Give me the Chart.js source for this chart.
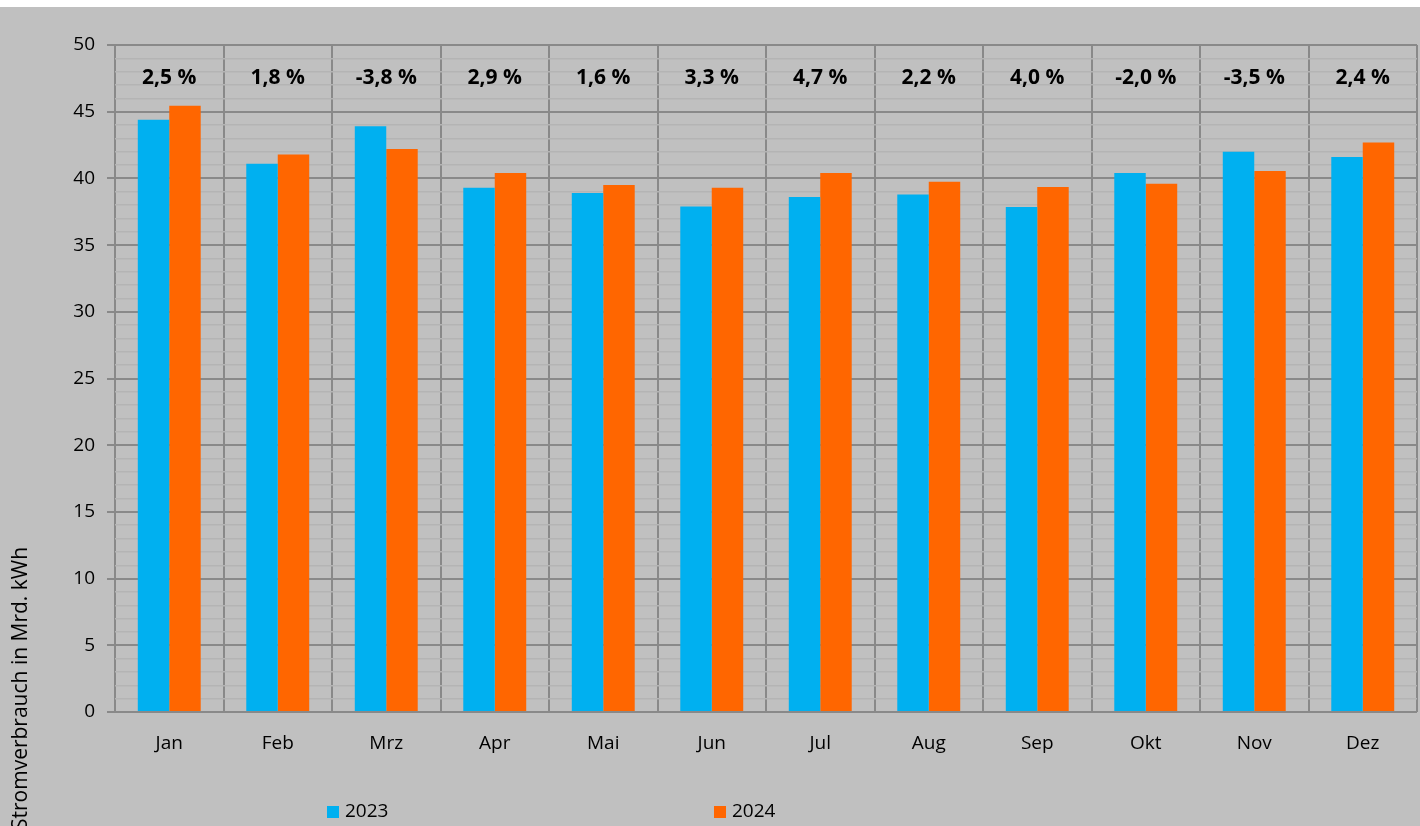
<!DOCTYPE html>
<html>
<head>
<meta charset="utf-8">
<script src="https://cdn.jsdelivr.net/npm/chart.js@4"></script>
<style>
  html, body { margin: 0; padding: 0; background: #fff; }
  #wrap { position: absolute; left: 0; top: 7px; width: 1420px; height: 819px; background: #c0c0c0; }
</style>
</head>
<body>
<div id="wrap"><canvas id="myChart" width="1420" height="819"></canvas></div>
<script>
'use strict';

// DATEN
const months = ["Jan", "Feb", "Mrz", "Apr", "Mai", "Jun", "Jul", "Aug", "Sep", "Okt", "Nov", "Dez"];
const verbrauch2023 = [44.4, 41.1, 43.9, 39.3, 38.9, 37.9, 38.6, 38.8, 37.85, 40.4, 42.0, 41.6];
const verbrauch2024 = [45.45, 41.8, 42.2, 40.4, 39.5, 39.3, 40.4, 39.75, 39.35, 39.6, 40.55, 42.7];
const changeLabels = ["2,5 %", "1,8 %", "-3,8 %", "2,9 %", "1,6 %", "3,3 %", "4,7 %", "2,2 %", "4,0 %", "-2,0 %", "-3,5 %", "2,4 %"];
const yTicks = [0, 5, 10, 15, 20, 25, 30, 35, 40, 45, 50];
const yTitle = "Stromverbrauch in Mrd. kWh";

const FONT = "'Open Sans', sans-serif";

// Prozentwerte oben + Legende + Achsentitel
const extrasPlugin = {
  id: 'extras',
  afterDatasetsDraw(chart) {
    const ctx = chart.ctx;
    const x = chart.scales.x;
    const y = chart.scales.y;
    ctx.save();
    ctx.fillStyle = '#000';
    ctx.font = "bold 21px " + FONT;
    ctx.textAlign = 'center';
    ctx.textBaseline = 'middle';
    changeLabels.forEach(function(lbl, i) {
      ctx.fillText(lbl, x.getPixelForValue(i), y.getPixelForValue(47.5));
    });

    // Achsentitel
    ctx.font = "21px " + FONT;
    ctx.translate(21, 823);
    ctx.rotate(-Math.PI / 2);
    ctx.textAlign = 'left';
    ctx.fillText(yTitle, 0, 0);
    ctx.restore();

    // Legende
    ctx.save();
    ctx.font = "19px " + FONT;
    ctx.textBaseline = 'middle';
    ctx.textAlign = 'left';
    const legendX = [327, 714];
    chart.data.datasets.forEach(function(ds, i) {
      ctx.fillStyle = ds.backgroundColor;
      ctx.fillRect(legendX[i], 799, 12, 12);
      ctx.fillStyle = '#000';
      ctx.fillText(ds.label, legendX[i] + 18, 805);
    });
    ctx.restore();
  }
};

const ctx = document.getElementById('myChart').getContext('2d');

const chart = new Chart(ctx, {
  type: 'bar',
  data: {
    labels: months,
    datasets: [{
      label: "2023",
      backgroundColor: '#00B0F0',
      data: verbrauch2023,
    },
    {
      label: "2024",
      backgroundColor: '#FF6600',
      data: verbrauch2024,
    }]
  },
  options: {
    responsive: false,
    animation: false,
    layout: { padding: { left: 0, right: 3, top: 38, bottom: 0 } },
    datasets: {
      bar: { categoryPercentage: 0.58, barPercentage: 1.0 }
    },
    plugins: {
      legend: { display: false },
      tooltip: { enabled: false }
    },
    scales: {
      x: {
        grid: {
          offset: true,
          color: '#898989',
          lineWidth: 2,
          drawTicks: false
        },
        border: { display: false },
        ticks: {
          color: '#000',
          font: { family: FONT, size: 19 },
          padding: 20
        },
        afterFit: function(s) { s.height = 114; }
      },
      y: {
        min: 0,
        max: 50,
        afterBuildTicks: function(s) {
          const t = [];
          for (let v = 0; v <= 50; v++) t.push({ value: v });
          s.ticks = t;
        },
        grid: {
          color: function(c) { return yTicks.includes(c.tick.value) ? '#898989' : '#b4b4b4'; },
          lineWidth: function(c) { return yTicks.includes(c.tick.value) ? 2 : 1.5; },
          tickColor: function(c) { return yTicks.includes(c.tick.value) ? '#898989' : 'rgba(0,0,0,0)'; },
          tickLength: 8
        },
        border: { display: false },
        ticks: {
          autoSkip: false,
          color: '#000',
          font: { family: FONT, size: 19 },
          padding: 12,
          callback: function(v) { return yTicks.includes(v) ? v : ''; }
        },
        afterFit: function(s) { s.width = 115; }
      }
    }
  },
  plugins: [extrasPlugin]
});
</script>
</body>
</html>
